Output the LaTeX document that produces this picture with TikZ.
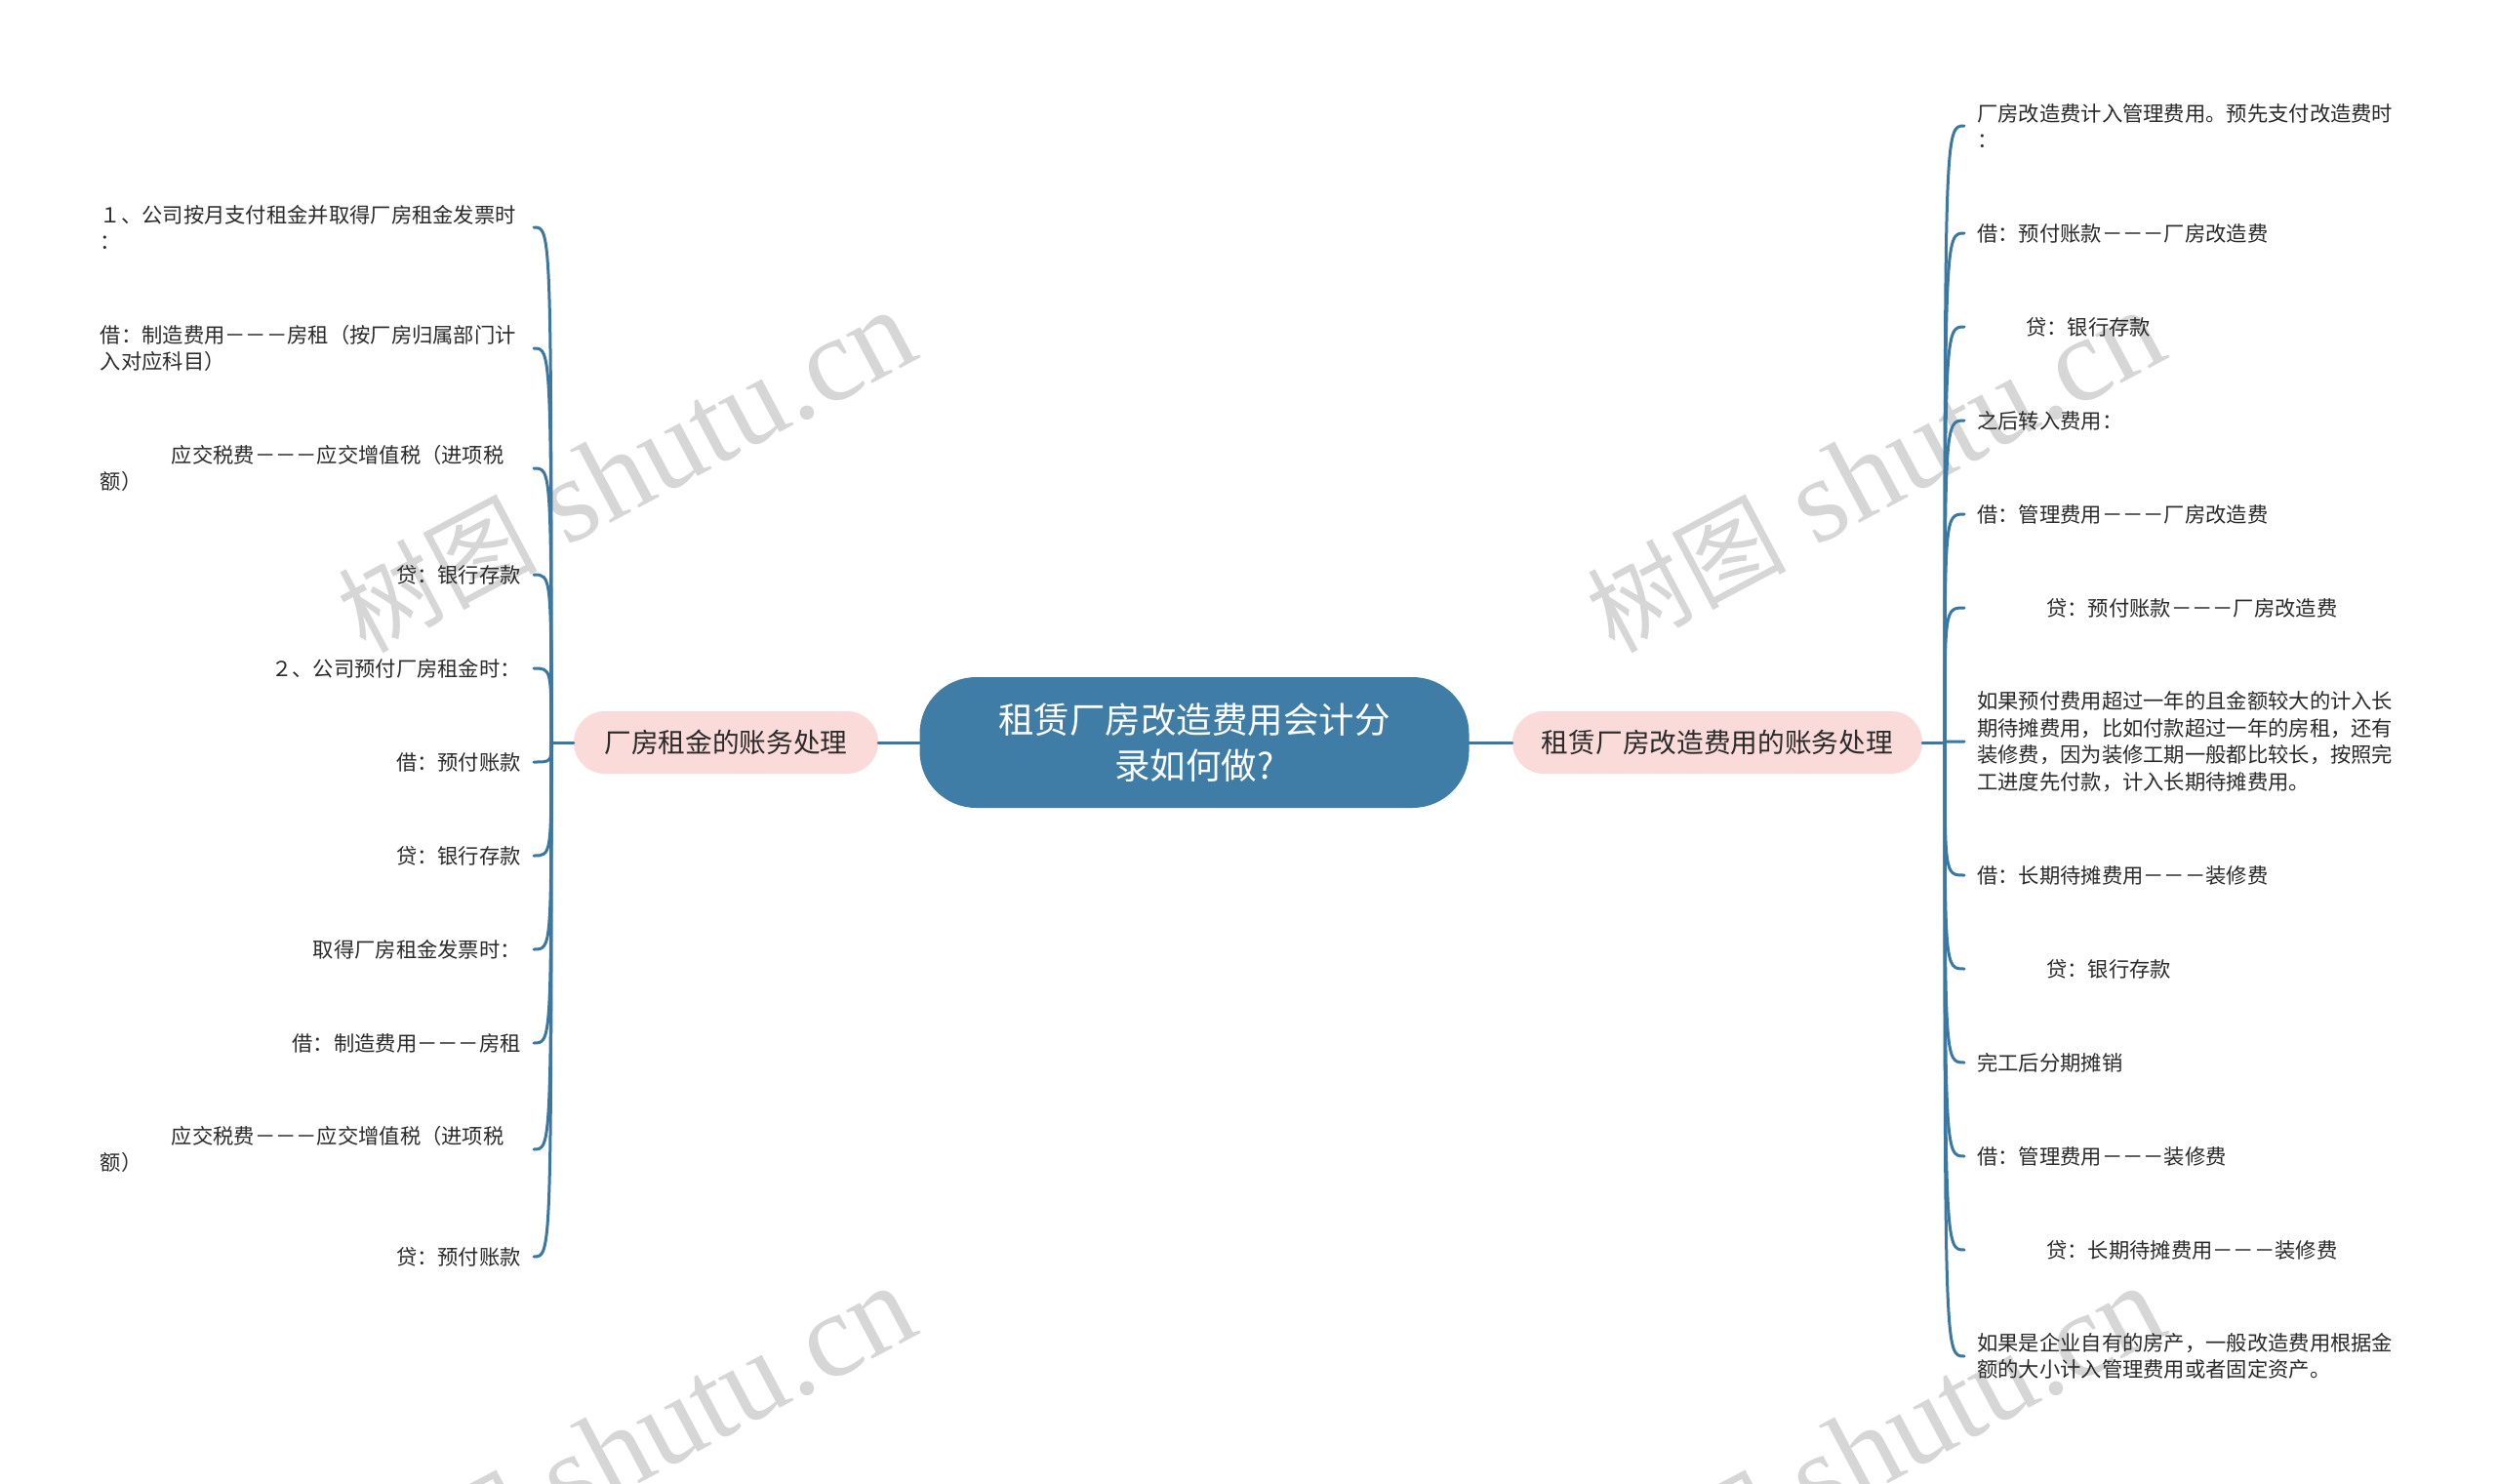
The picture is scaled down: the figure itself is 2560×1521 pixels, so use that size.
\documentclass[tikz,border=0pt]{standalone}
\usepackage{fontspec}
\setmainfont{Noto Sans CJK SC}
\newfontfamily\wmcjk{Noto Sans CJK SC}
\newfontfamily\wmserif{Liberation Serif}
\usetikzlibrary{calc}
\definecolor{lineblue}{HTML}{3A77A1}
\definecolor{rootblue}{HTML}{3F7DA6}
\definecolor{pinkfill}{HTML}{FADBD9}
\definecolor{wmgray}{HTML}{D6D6D6}
\definecolor{txt}{HTML}{2A2A2A}
\begin{document}
\begin{tikzpicture}[x=1pt,y=-1pt,
  conn/.style={draw=lineblue, line width=3pt, line cap=round},
  leafL/.style={anchor=east, inner xsep=13pt, inner ysep=0pt, text width=431pt,
    font=\fontsize{21.3}{27.5}\selectfont, text=txt},
  leafR/.style={anchor=west, inner xsep=13pt, inner ysep=0pt, text width=431pt,
    align=left, font=\fontsize{21.3}{27.5}\selectfont, text=txt},
  root/.style={fill=rootblue, rounded corners=58pt, minimum width=563pt,
    minimum height=134pt, inner sep=0pt, text=white, align=center,
    font=\fontsize{36.5}{47}\selectfont},
  branch/.style={fill=pinkfill, rounded corners=32pt, minimum height=64pt,
    inner sep=0pt, text=txt, font=\fontsize{27.7}{30}\selectfont},
  wm/.style={anchor=base east, rotate=28, inner sep=0pt, text=wmgray}]
\fill[white] (0,0) rectangle (2560,1521);
\useasboundingbox (0,0) rectangle (2560,1521);
% watermarks
\begin{scope}
\clip (0,0) rectangle (2560,1521);
\node[wm] (wm1) at (946,366) {{\wmcjk\fontsize{102}{102}\selectfont 树图}\hspace{30pt}{\wmserif\fontsize{123}{123}\selectfont shutu.cn}};
\node[wm] (wm2) at (2226,366) {{\wmcjk\fontsize{102}{102}\selectfont 树图}\hspace{30pt}{\wmserif\fontsize{123}{123}\selectfont shutu.cn}};
\node[wm] (wm3) at (946,1366) {{\wmcjk\fontsize{102}{102}\selectfont 树图}\hspace{30pt}{\wmserif\fontsize{123}{123}\selectfont shutu.cn}};
\node[wm] (wm4) at (2226,1366) {{\wmcjk\fontsize{102}{102}\selectfont 树图}\hspace{30pt}{\wmserif\fontsize{123}{123}\selectfont shutu.cn}};
\end{scope}
% main nodes
\node[root] (c) at (1224,761) {租赁厂房改造费用会计分\\录如何做?};
\node[branch, minimum width=312pt] (bl) at (744,761) {厂房租金的账务处理};
\node[branch, minimum width=420pt] (br) at (1760,761) {租赁厂房改造费用的账务处理};
\coordinate (LJ) at (565,761);
\coordinate (RJ) at (1993,761);
% left leaves
\node[leafL, align=left]  (l1)  at (547,233)  {１、公司按月支付租金并取得厂房租金发票时\\：};
\node[leafL, align=left]  (l2)  at (547,357)  {借：制造费用－－－房租（按厂房归属部门计\\入对应科目）};
\node[leafL, align=left]  (l3)  at (547,480)  {\hspace*{73pt}应交税费－－－应交增值税（进项税\\额）};
\node[leafL, align=right] (l4)  at (547,589)  {贷：银行存款};
\node[leafL, align=right] (l5)  at (547,685)  {２、公司预付厂房租金时：};
\node[leafL, align=right] (l6)  at (547,781)  {借：预付账款};
\node[leafL, align=right] (l7)  at (547,877)  {贷：银行存款};
\node[leafL, align=right] (l8)  at (547,973)  {取得厂房租金发票时：};
\node[leafL, align=right] (l9)  at (547,1069) {借：制造费用－－－房租};
\node[leafL, align=left]  (l10) at (547,1178) {\hspace*{73pt}应交税费－－－应交增值税（进项税\\额）};
\node[leafL, align=right] (l11) at (547,1288) {贷：预付账款};
% right leaves
\node[leafR] (r1)  at (2013,129)  {厂房改造费计入管理费用。预先支付改造费时\\：};
\node[leafR] (r2)  at (2013,239)  {借：预付账款－－－厂房改造费};
\node[leafR] (r3)  at (2013,335)  {\hspace*{50pt}贷：银行存款};
\node[leafR] (r4)  at (2013,431)  {之后转入费用：};
\node[leafR] (r5)  at (2013,527)  {借：管理费用－－－厂房改造费};
\node[leafR] (r6)  at (2013,623)  {\hspace*{71pt}贷：预付账款－－－厂房改造费};
\node[leafR] (r7)  at (2013,760)  {如果预付费用超过一年的且金额较大的计入长\\期待摊费用，比如付款超过一年的房租，还有\\装修费，因为装修工期一般都比较长，按照完\\工进度先付款，计入长期待摊费用。};
\node[leafR] (r8)  at (2013,897)  {借：长期待摊费用－－－装修费};
\node[leafR] (r9)  at (2013,993)  {\hspace*{71pt}贷：银行存款};
\node[leafR] (r10) at (2013,1089) {完工后分期摊销};
\node[leafR] (r11) at (2013,1185) {借：管理费用－－－装修费};
\node[leafR] (r12) at (2013,1281) {\hspace*{71pt}贷：长期待摊费用－－－装修费};
\node[leafR] (r13) at (2013,1390) {如果是企业自有的房产，一般改造费用根据金\\额的大小计入管理费用或者固定资产。};
% connectors
\draw[conn] (c.west) -- (bl.east);
\draw[conn] (c.east) -- (br.west);
\draw[conn] (bl.west) -- (LJ);
\draw[conn] (br.east) -- (RJ);
\foreach \n in {l1,l2,l3,l4,l5,l6,l7,l8,l9,l10,l11}
  \draw[conn] (LJ) .. controls (LJ |- \n.east) .. (\n.east);
\foreach \n in {r1,r2,r3,r4,r5,r6,r7,r8,r9,r10,r11,r12,r13}
  \draw[conn] (RJ) .. controls (RJ |- \n.west) .. (\n.west);
\end{tikzpicture}
\end{document}
